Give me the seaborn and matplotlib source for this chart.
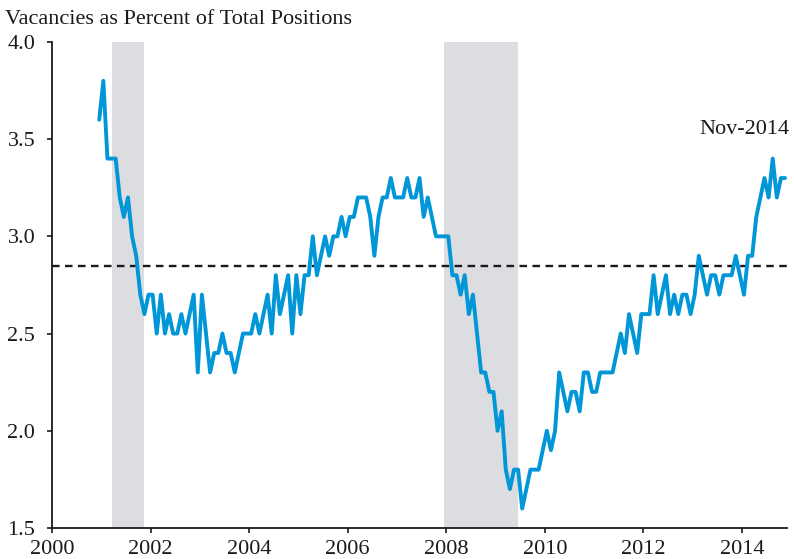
import numpy as np
import pandas as pd
import matplotlib.pyplot as plt
import seaborn as sns

# --- Data: job openings rate, monthly Dec-2000 .. Nov-2014 ---
first_month = "2000-12"
rate = [
    3.6,
    3.8, 3.4, 3.4, 3.4, 3.2, 3.1, 3.2, 3.0, 2.9, 2.7, 2.6, 2.7,  # 2001
    2.7, 2.5, 2.7, 2.5, 2.6, 2.5, 2.5, 2.6, 2.5, 2.6, 2.7, 2.3,  # 2002
    2.7, 2.5, 2.3, 2.4, 2.4, 2.5, 2.4, 2.4, 2.3, 2.4, 2.5, 2.5,  # 2003
    2.5, 2.6, 2.5, 2.6, 2.7, 2.5, 2.8, 2.6, 2.7, 2.8, 2.5, 2.8,  # 2004
    2.6, 2.8, 2.8, 3.0, 2.8, 2.9, 3.0, 2.9, 3.0, 3.0, 3.1, 3.0,  # 2005
    3.1, 3.1, 3.2, 3.2, 3.2, 3.1, 2.9, 3.1, 3.2, 3.2, 3.3, 3.2,  # 2006
    3.2, 3.2, 3.3, 3.2, 3.2, 3.3, 3.1, 3.2, 3.1, 3.0, 3.0, 3.0,  # 2007
    3.0, 2.8, 2.8, 2.7, 2.8, 2.6, 2.7, 2.5, 2.3, 2.3, 2.2, 2.2,  # 2008
    2.0, 2.1, 1.8, 1.7, 1.8, 1.8, 1.6, 1.7, 1.8, 1.8, 1.8, 1.9,  # 2009
    2.0, 1.9, 2.0, 2.3, 2.2, 2.1, 2.2, 2.2, 2.1, 2.3, 2.3, 2.2,  # 2010
    2.2, 2.3, 2.3, 2.3, 2.3, 2.4, 2.5, 2.4, 2.6, 2.5, 2.4, 2.6,  # 2011
    2.6, 2.6, 2.8, 2.6, 2.7, 2.8, 2.6, 2.7, 2.6, 2.7, 2.7, 2.6,  # 2012
    2.7, 2.9, 2.8, 2.7, 2.8, 2.8, 2.7, 2.8, 2.8, 2.8, 2.9, 2.8,  # 2013
    2.7, 2.9, 2.9, 3.1, 3.2, 3.3, 3.2, 3.4, 3.2, 3.3, 3.3,       # 2014
]
avg_rate = 2.85
recessions = [("2001-03", "2001-11"), ("2007-12", "2009-06")]
x_ticks = [2000, 2002, 2004, 2006, 2008, 2010, 2012, 2014]
y_ticks = [1.5, 2.0, 2.5, 3.0, 3.5, 4.0]
subtitle = "Vacancies as Percent of Total Positions"
last_label = "Nov-2014"

line_color = "#0096d7"
shade_color = "#dcdde0"
ink = "#1a1a1a"


def mid_month(p):
    # decimal year at the middle of the month
    p = pd.Period(p, freq="M")
    return p.year + (p.month - 0.5) / 12


months = pd.period_range(first_month, periods=len(rate), freq="M")
df = pd.DataFrame({"date": [mid_month(m) for m in months], "rate": rate})

sns.set_style("ticks")
plt.rcParams["font.family"] = ["Liberation Serif", "DejaVu Serif"]

fig = plt.figure(figsize=(7.94, 5.59), dpi=100)
ax = fig.add_axes([0.0655, 0.0555, 0.926, 0.8695])

for start, end in recessions:
    ax.axvspan(mid_month(start), mid_month(end), color=shade_color, lw=0, zorder=0)

ax.axhline(avg_rate, color=ink, lw=1.7, ls=(0, (3.2, 2.3)), zorder=1)

sns.lineplot(data=df, x="date", y="rate", color=line_color, lw=2.8, ax=ax, zorder=2)

ax.set_xlim(2000, 2014.92)
ax.set_ylim(1.5, 4.0)
ax.set_xticks(x_ticks)
ax.set_xticklabels([str(t) for t in x_ticks])
ax.set_yticks(y_ticks)
ax.set_yticklabels([f"{t:.1f}" for t in y_ticks])
ax.set_xlabel("")
ax.set_ylabel("")
ax.tick_params(axis="both", labelsize=16, length=3.6, width=1.2, colors=ink)
ax.tick_params(axis="y", pad=8.5)
ax.tick_params(axis="x", pad=5)
for s in ["top", "right"]:
    ax.spines[s].set_visible(False)
for s in ["left", "bottom"]:
    ax.spines[s].set_linewidth(1.3)
    ax.spines[s].set_color(ink)

fig.text(0.006, 0.965, subtitle, fontsize=16, ha="left", va="center", color=ink)
ax.text(df["date"].iloc[-1] + 0.1, 3.5, last_label, fontsize=16, ha="right",
        va="bottom", color=ink)

fig.savefig("out.png", dpi=100)
